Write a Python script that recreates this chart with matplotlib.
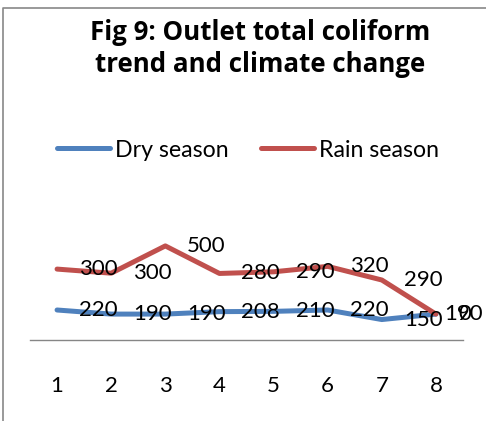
import matplotlib.pyplot as plt
from matplotlib.lines import Line2D
import numpy as np

plt.rcParams['font.family'] = ['Lato', 'DejaVu Sans']

# Dane: pomiary na wylocie (sezon suchy i deszczowy)
probki = [1, 2, 3, 4, 5, 6, 7, 8]
pora_sucha = [220, 190, 190, 208, 210, 220, 150, 190]
pora_deszczowa = [300, 300, 500, 280, 290, 320, 290, 0]

tytul = ['Fig 9: Outlet total coliform', 'trend and climate change']
nazwy_serii = ['Dry season', 'Rain season']
kolory = ['#4F81BD', '#C0504D']

W, H = 486, 421
fig = plt.figure(figsize=(W / 100, H / 100), dpi=100)

# ramka obszaru wykresu (lewa i gorna krawedz)
fig.add_artist(Line2D([2.5 / W, 2.5 / W, 1.0], [0.0, 1 - 8 / H, 1 - 8 / H],
                      transform=fig.transFigure, color='#888888', lw=1.2))

for k, wiersz in enumerate(tytul):
    fig.text(260 / W, 1 - (40 + 32 * k) / H, wiersz, ha='center', va='baseline',
             fontsize=18.6, fontweight='bold', family=['Open Sans', 'DejaVu Sans'])

ax = fig.add_axes([30 / W, (H - 340) / H, 433 / W, 150 / H])

# wykres liniowy skumulowany: seria deszczowa lezy na suchej
x = np.array(probki)
y_sucha = np.array(pora_sucha)
y_deszcz = y_sucha + np.array(pora_deszczowa)

l1, = ax.plot(x, y_sucha, color=kolory[0], lw=3.6, solid_capstyle='round',
              solid_joinstyle='round', label=nazwy_serii[0])
l2, = ax.plot(x, y_deszcz, color=kolory[1], lw=3.6, solid_capstyle='round',
              solid_joinstyle='round', label=nazwy_serii[1])

# etykiety danych po prawej stronie punktow
for i in range(len(x)):
    dx_sucha = 5.8 if i == len(x) - 1 else 15.8
    ax.annotate(str(pora_sucha[i]), (x[i], y_sucha[i]), xytext=(dx_sucha, 0),
                textcoords='offset points', ha='left', va='center', fontsize=16)
    ax.annotate(str(pora_deszczowa[i]), (x[i], y_deszcz[i]), xytext=(15.8, 0),
                textcoords='offset points', ha='left', va='center', fontsize=16)

ax.set_xlim(0.5, 8.5)
ax.set_ylim(0, 1100)
ax.set_xticks(probki)
ax.set_xticklabels([str(p) for p in probki])
ax.set_yticks([])
ax.tick_params(axis='x', length=0, pad=26, labelsize=16)
for s in ['left', 'right', 'top']:
    ax.spines[s].set_visible(False)
ax.spines['bottom'].set_color('#868686')
ax.spines['bottom'].set_linewidth(1.0)
ax.patch.set_alpha(0)

fig.legend(handles=[l1, l2], loc='center', bbox_to_anchor=(248 / W, 1 - 150 / H),
           ncol=2, frameon=False, fontsize=16.7, handlelength=2.3,
           handletextpad=0.2, columnspacing=1.4)

fig.savefig('out.png', dpi=100)
